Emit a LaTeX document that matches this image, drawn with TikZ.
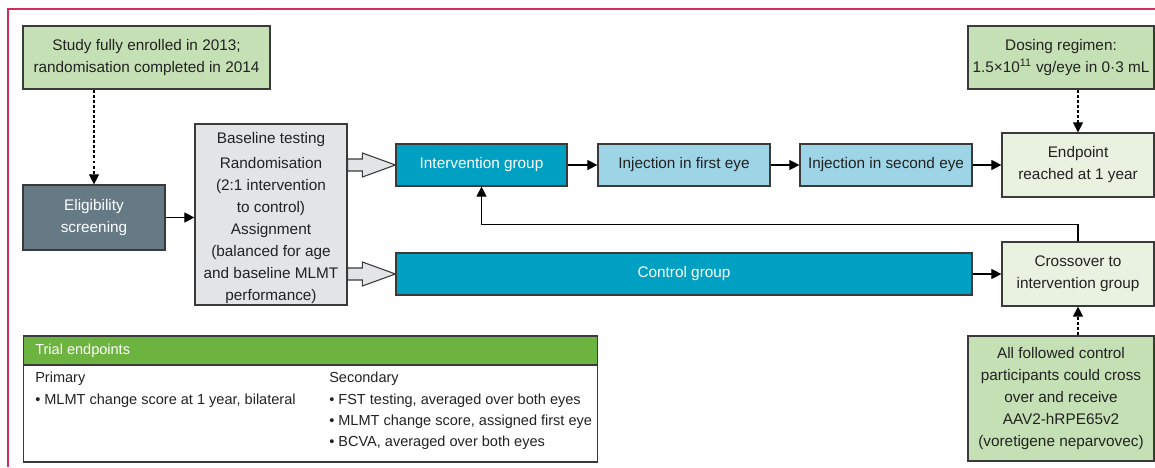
\documentclass[tikz,border=0pt]{standalone}
\usepackage{fontspec}
\setmainfont{Liberation Sans}
\usetikzlibrary{arrows.meta,calc}

\definecolor{framepink}{HTML}{D02F5A}
\definecolor{boxline}{HTML}{3A3A3A}
\definecolor{notegreen}{HTML}{C5E0B4}
\definecolor{slate}{HTML}{667A85}
\definecolor{basegray}{HTML}{E3E4E6}
\definecolor{groupteal}{HTML}{00A0C3}
\definecolor{injblue}{HTML}{9DD4E6}
\definecolor{palegreen}{HTML}{E9F1E0}
\definecolor{headgreen}{HTML}{6DB33F}
\definecolor{inktext}{HTML}{222222}

\newcommand{\boxfont}{\fontsize{11.5}{16.5}\selectfont}
\newcommand{\listfont}{\fontsize{10.9}{16}\selectfont}

% hollow block arrow from the right side of #1 to the left side of #2
\newcommand{\blockarrow}[2]{%
  \path (#1.east |- #2.west) coordinate (ba1) (#2.west) coordinate (ba2);
  \draw[hollow] ($(ba1)+(0,-6)$) -- ($(ba2)+(-33,-6)$) -- ($(ba2)+(-33,-12)$) -- (ba2)
    -- ($(ba2)+(-33,12)$) -- ($(ba2)+(-33,6)$) -- ($(ba1)+(0,6)$) -- cycle;}

\begin{document}
\begin{tikzpicture}[x=0.75pt,y=0.75pt,yscale=-1,xscale=1,
  box/.style={draw=boxline, line width=0.9pt, align=center, inner sep=0pt,
    font=\boxfont, text=inktext},
  arr/.style={draw=black, line width=0.8pt, -{Triangle[length=7.5pt,width=7.5pt]}},
  darr/.style={arr, dash pattern=on 2.2pt off 1.6pt},
  hollow/.style={draw=boxline, line width=0.8pt, fill=basegray},
  txt/.style={inner sep=0pt, align=left, text=inktext}]
\useasboundingbox (0,0) rectangle (1155,467);

%Frame
\draw[framepink, line width=0.8pt] (8,467) -- (8,9) -- (1155,9);

%Top notes
\node[box, fill=notegreen, minimum width=185.25pt, minimum height=47.25pt] (study) at (146.5,57.5)
  {Study fully enrolled in 2013;\\randomisation completed in 2014};
\node[box, fill=notegreen, minimum width=139.5pt, minimum height=47.25pt] (dosing) at (1061,57.5)
  {Dosing regimen:\\1.5×10\textsuperscript{11} vg/eye in 0·3 mL};

%Left column
\node[box, fill=slate, text=white, minimum width=106.5pt, minimum height=48.75pt] (elig) at (94,217.5)
  {Eligibility\\screening};
\node[box, fill=basegray, minimum width=114pt, minimum height=135.75pt] (base) at (271,214.5)
  {\rule{0pt}{14pt}Baseline testing\\[2.5pt]Randomisation\\(2:1 intervention\\to control)\\Assignment\\(balanced for age\\and baseline MLMT\\performance)};

%Groups
\node[box, fill=groupteal, text=white, minimum width=128.25pt, minimum height=31.5pt] (interv) at (481.5,165)
  {Intervention group};
\node[box, fill=injblue, minimum width=129pt, minimum height=31.5pt] (inj1) at (684,165)
  {Injection in first eye};
\node[box, fill=injblue, minimum width=129pt, minimum height=31.5pt] (inj2) at (886,165)
  {Injection in second eye};
\node[box, fill=groupteal, text=white, minimum width=432pt, minimum height=31.5pt] (control) at (684,274)
  {Control group};

%Right column
\node[box, fill=palegreen, minimum width=114pt, minimum height=48pt] (endpt) at (1078,165)
  {Endpoint\\reached at 1 year};
\node[box, fill=palegreen, minimum width=114pt, minimum height=48pt] (cross) at (1078,274)
  {Crossover to\\intervention group};
\node[box, fill=notegreen, minimum width=139.5pt, minimum height=93.75pt] (follow) at (1061,398.5)
  {All followed control\\participants could cross\\over and receive\\AAV2-hRPE65v2\\(voretigene neparvovec)};

%Trial endpoints
\node[box, fill=white, minimum width=430.5pt, minimum height=94.5pt] (trial) at (310.5,399) {};
\node[box, fill=headgreen, anchor=north, minimum width=430.5pt, minimum height=21.75pt] (trialhead) at (trial.north) {};
\node[txt, anchor=west, text=white, font=\listfont] (trialtitle) at (35,351) {Trial endpoints};
\node[txt, anchor=north west, font=\listfont] (primary) at (35,372)
  {Primary\\• MLMT change score at 1 year, bilateral};
\node[txt, anchor=north west, font=\listfont] (secondary) at (329,372)
  {Secondary\\• FST testing, averaged over both eyes\\• MLMT change score, assigned first eye\\• BCVA, averaged over both eyes};

%Connectors
\draw[darr] (study.south -| elig.north) -- (elig.north);
\draw[arr] (elig.east) -- (elig.east -| base.west);
\blockarrow{base}{interv}
\blockarrow{base}{control}
\draw[arr] (interv) -- (inj1);
\draw[arr] (inj1) -- (inj2);
\draw[arr] (inj2) -- (endpt);
\draw[darr] (dosing.south -| endpt.north) -- (endpt.north);
\draw[arr] (control) -- (cross);
\draw[arr] (cross.north) -- ++(0,-17) -| (interv.south);
\draw[darr] (follow.north -| cross.south) -- (cross.south);

\end{tikzpicture}
\end{document}
